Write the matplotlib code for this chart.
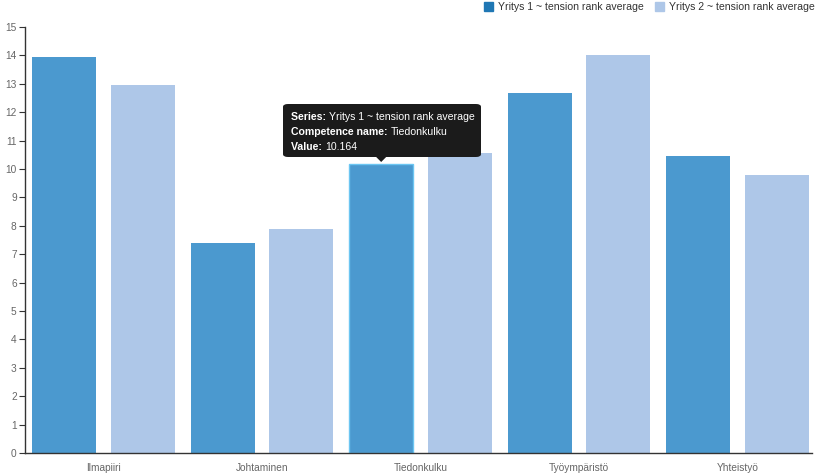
import numpy as np
import matplotlib.pyplot as plt
from matplotlib.patches import FancyBboxPatch, Polygon, Rectangle

categories = ['Ilmapiiri', 'Johtaminen', 'Tiedonkulku', 'Työympäristö', 'Yhteistyö']
series_names = ['Yritys 1 ~ tension rank average', 'Yritys 2 ~ tension rank average']
yritys1 = [13.94, 7.39, 10.164, 12.68, 10.46]
yritys2 = [12.96, 7.89, 10.56, 14.01, 9.79]
y_ticks = list(range(0, 16))

bar_colors = ['#4b99cf', '#aec7e8']
legend_colors = ['#1f77b4', '#aec7e8']
axis_color = '#333333'
label_color = '#666666'

plt.rcParams['font.family'] = ['Liberation Sans', 'DejaVu Sans']

fig = plt.figure(figsize=(8.38, 4.76), dpi=100)
W, H = 838, 476
ax = fig.add_axes([25 / W, 1 - 453 / H, (812 - 25) / W, (453 - 27) / H])

x = np.arange(len(categories))
width = 0.404
offset = 0.248
bars1 = ax.bar(x - offset, yritys1, width, color=bar_colors[0], zorder=2)
bars2 = ax.bar(x + offset, yritys2, width, color=bar_colors[1], zorder=2)

# hovered bar gets a light outline
hover = 2
bars1[hover].set_edgecolor('#6cc6f2')
bars1[hover].set_linewidth(1.0)

ax.set_xlim(-0.495, 4.47)
ax.set_ylim(0, 15)
ax.set_yticks(y_ticks)
ax.set_xticks(x)
ax.set_xticklabels(categories)
ax.tick_params(axis='y', length=4, width=0.8, color=axis_color, labelsize=7.3,
               labelcolor=label_color, pad=2)
ax.tick_params(axis='x', length=0, labelsize=7.3, labelcolor=label_color, pad=7)
for side in ['top', 'right']:
    ax.spines[side].set_visible(False)
for side in ['left', 'bottom']:
    ax.spines[side].set_color(axis_color)
    ax.spines[side].set_linewidth(1.0)

# legend at top right
for i, (name, col) in enumerate(zip(series_names, legend_colors)):
    x0 = [484, 655][i]
    fig.patches.append(Rectangle((x0 / W, 1 - 11 / H), 9 / W, 9 / H,
                                 transform=fig.transFigure, color=col))
    fig.text((x0 + 14) / W, 1 - 7 / H, name, fontsize=7.6, color='#333333',
             va='center', ha='left')

# tooltip above hovered bar
bx = x[hover] - offset
by = yritys1[hover]
tx0, ty0, tx1, ty1 = 283, 104, 481, 157
box = FancyBboxPatch((tx0 / W, 1 - ty1 / H), (tx1 - tx0) / W, (ty1 - ty0) / H,
                     boxstyle='round,pad=0,rounding_size=0.006',
                     transform=fig.transFigure, facecolor='#1b1b1b',
                     edgecolor='none', zorder=10)
fig.patches.append(box)
px, py = ax.transData.transform((bx, by))
arrow = Polygon([[px - 6, H - ty1 + 1], [px + 6, H - ty1 + 1], [px, H - ty1 - 5]],
                closed=True, transform=None, facecolor='#1b1b1b',
                edgecolor='none', zorder=10)
fig.patches.append(arrow)
lines = [('Series: ', series_names[0]),
         ('Competence name: ', categories[hover]),
         ('Value: ', f'{yritys1[hover]:.3f}')]
for j, (key, val) in enumerate(lines):
    yy = 1 - (117 + j * 15) / H
    t = fig.text((tx0 + 8) / W, yy, key, fontsize=7.6, color='white',
                 fontweight='bold', va='center', ha='left', zorder=11)
    fig.canvas.draw()
    bb = t.get_window_extent()
    fig.text(bb.x1 / W, yy, val, fontsize=7.6, color='white',
             va='center', ha='left', zorder=11)

fig.savefig('out.png', dpi=100)
